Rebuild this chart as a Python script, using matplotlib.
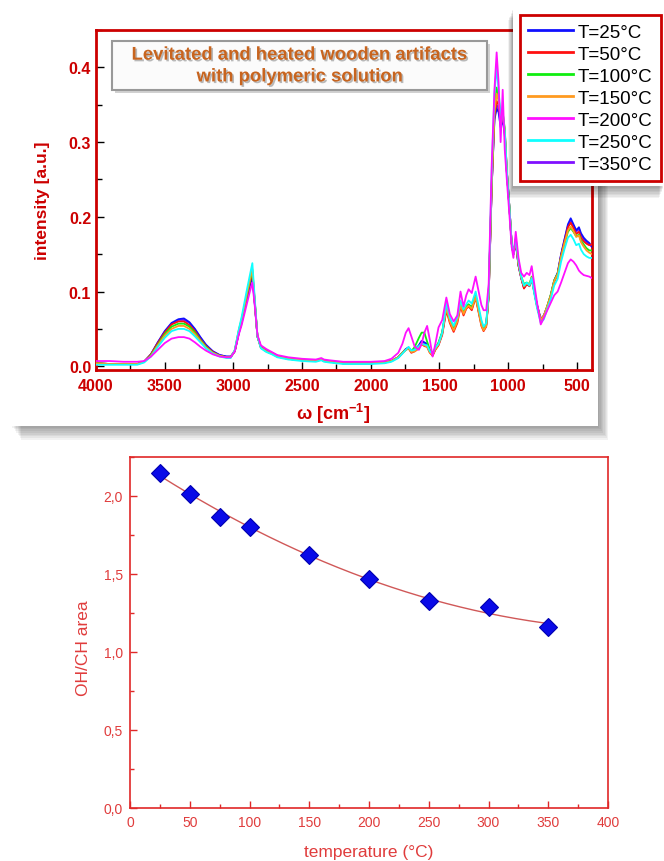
import numpy as np
import matplotlib.pyplot as plt
import matplotlib.patheffects as pe
from matplotlib.patches import Rectangle
from matplotlib.lines import Line2D
from matplotlib.ticker import MultipleLocator, FuncFormatter

plt.rcParams['font.family'] = ['Liberation Sans', 'DejaVu Sans']
plt.rcParams['mathtext.fontset'] = 'custom'
plt.rcParams['mathtext.rm'] = 'Liberation Sans'
plt.rcParams['mathtext.bf'] = 'Liberation Sans:bold'

# ---- spectra (wavenumber grid shared by all curves) ----
wn = [4000, 3900, 3800, 3700, 3650, 3600, 3550, 3500, 3450, 3400, 3360, 3320, 3280, 3240, 3200, 3150, 3100, 3050, 3020,
      2990, 2960, 2940, 2920, 2900, 2880, 2862, 2845, 2825, 2800, 2760, 2720, 2680, 2600, 2500, 2400, 2360, 2340, 2300,
      2200, 2100, 2000, 1900, 1850, 1800, 1770, 1745, 1725, 1705, 1680, 1650, 1630, 1610, 1590, 1570, 1550, 1530, 1507, 1480, 1450, 1425, 1397,
      1370, 1347, 1325, 1305, 1288, 1265, 1237, 1215, 1195, 1179, 1160, 1142, 1120, 1100, 1084, 1070, 1055, 1040, 1025, 1010, 990, 975, 962,
      945, 925, 905, 885, 865, 845, 829, 810, 790, 763, 740, 715, 690, 665, 640, 615, 590, 565, 545, 525, 505, 485, 470, 450, 430, 410, 390]

t25 = [0.004, 0.003, 0.003, 0.003, 0.006, 0.016, 0.032, 0.047, 0.058, 0.063, 0.064, 0.059, 0.050, 0.039, 0.029, 0.020, 0.015, 0.013, 0.013,
       0.020, 0.045, 0.058, 0.075, 0.092, 0.108, 0.120, 0.085, 0.040, 0.026, 0.021, 0.018, 0.014, 0.010, 0.008, 0.007, 0.009, 0.008, 0.006,
       0.004, 0.004, 0.004, 0.005, 0.007, 0.012, 0.018, 0.023, 0.025, 0.020, 0.022, 0.028, 0.034, 0.032, 0.030, 0.020, 0.016, 0.024, 0.030, 0.045, 0.078, 0.062, 0.050,
       0.062, 0.085, 0.072, 0.080, 0.082, 0.078, 0.095, 0.075, 0.058, 0.050, 0.056, 0.095, 0.240, 0.330, 0.345, 0.340, 0.320, 0.330, 0.310, 0.260, 0.210, 0.165, 0.150,
       0.165, 0.135, 0.118, 0.105, 0.110, 0.108, 0.118, 0.100, 0.082, 0.063, 0.068, 0.080, 0.095, 0.115, 0.125, 0.150, 0.170, 0.190, 0.198, 0.190, 0.182, 0.186, 0.178, 0.172, 0.168, 0.165, 0.160]

t50 = [0.004, 0.003, 0.003, 0.003, 0.006, 0.016, 0.031, 0.045, 0.056, 0.060, 0.060, 0.055, 0.047, 0.036, 0.027, 0.019, 0.014, 0.012, 0.012,
       0.020, 0.046, 0.060, 0.077, 0.095, 0.112, 0.125, 0.087, 0.040, 0.025, 0.020, 0.017, 0.013, 0.010, 0.008, 0.007, 0.009, 0.007, 0.006,
       0.004, 0.004, 0.004, 0.005, 0.007, 0.012, 0.018, 0.022, 0.024, 0.018, 0.020, 0.024, 0.030, 0.027, 0.026, 0.018, 0.014, 0.022, 0.028, 0.042, 0.075, 0.058, 0.046,
       0.058, 0.080, 0.068, 0.077, 0.080, 0.075, 0.092, 0.072, 0.054, 0.047, 0.053, 0.093, 0.240, 0.335, 0.355, 0.350, 0.330, 0.335, 0.315, 0.262, 0.210, 0.165, 0.150,
       0.168, 0.135, 0.118, 0.104, 0.110, 0.107, 0.117, 0.099, 0.080, 0.062, 0.067, 0.080, 0.094, 0.113, 0.123, 0.148, 0.167, 0.186, 0.192, 0.185, 0.177, 0.180, 0.172, 0.167, 0.164, 0.162, 0.163]

t100 = [0.004, 0.003, 0.003, 0.003, 0.006, 0.015, 0.029, 0.043, 0.053, 0.057, 0.057, 0.053, 0.045, 0.035, 0.026, 0.018, 0.014, 0.012, 0.012,
        0.021, 0.048, 0.062, 0.079, 0.097, 0.114, 0.128, 0.088, 0.040, 0.025, 0.020, 0.017, 0.013, 0.010, 0.008, 0.007, 0.009, 0.007, 0.006,
        0.004, 0.004, 0.004, 0.005, 0.007, 0.012, 0.018, 0.022, 0.024, 0.020, 0.026, 0.038, 0.045, 0.045, 0.033, 0.022, 0.018, 0.024, 0.032, 0.046, 0.080, 0.062, 0.052,
        0.064, 0.084, 0.073, 0.080, 0.083, 0.079, 0.094, 0.075, 0.057, 0.050, 0.055, 0.095, 0.245, 0.345, 0.373, 0.360, 0.335, 0.340, 0.318, 0.262, 0.210, 0.165, 0.150,
        0.170, 0.138, 0.120, 0.110, 0.112, 0.110, 0.120, 0.100, 0.081, 0.061, 0.067, 0.081, 0.096, 0.115, 0.124, 0.146, 0.164, 0.180, 0.185, 0.180, 0.174, 0.176, 0.168, 0.163, 0.158, 0.155, 0.155]

t150 = [0.004, 0.003, 0.003, 0.003, 0.006, 0.014, 0.028, 0.041, 0.050, 0.054, 0.054, 0.050, 0.043, 0.034, 0.025, 0.018, 0.014, 0.012, 0.012,
        0.021, 0.049, 0.063, 0.080, 0.099, 0.116, 0.130, 0.089, 0.040, 0.025, 0.020, 0.017, 0.013, 0.010, 0.008, 0.007, 0.009, 0.007, 0.006,
        0.004, 0.004, 0.004, 0.005, 0.007, 0.012, 0.018, 0.022, 0.024, 0.019, 0.020, 0.025, 0.031, 0.028, 0.026, 0.018, 0.015, 0.023, 0.029, 0.044, 0.078, 0.060, 0.048,
        0.060, 0.082, 0.070, 0.078, 0.081, 0.077, 0.093, 0.073, 0.055, 0.048, 0.054, 0.094, 0.243, 0.340, 0.365, 0.355, 0.335, 0.338, 0.316, 0.262, 0.210, 0.165, 0.150,
        0.168, 0.137, 0.119, 0.107, 0.111, 0.109, 0.119, 0.100, 0.081, 0.062, 0.068, 0.081, 0.095, 0.114, 0.123, 0.146, 0.165, 0.182, 0.187, 0.181, 0.173, 0.175, 0.166, 0.160, 0.155, 0.152, 0.150]

t200 = [0.007, 0.007, 0.006, 0.006, 0.007, 0.013, 0.022, 0.031, 0.037, 0.039, 0.039, 0.037, 0.032, 0.026, 0.021, 0.016, 0.013, 0.012, 0.012,
        0.020, 0.043, 0.055, 0.070, 0.085, 0.100, 0.112, 0.082, 0.042, 0.028, 0.023, 0.019, 0.015, 0.012, 0.010, 0.009, 0.011, 0.009, 0.008,
        0.006, 0.006, 0.006, 0.007, 0.010, 0.018, 0.030, 0.045, 0.051, 0.040, 0.026, 0.022, 0.030, 0.045, 0.054, 0.035, 0.013, 0.030, 0.052, 0.062, 0.092, 0.070, 0.060,
        0.068, 0.100, 0.080, 0.095, 0.103, 0.098, 0.120, 0.100, 0.082, 0.075, 0.075, 0.110, 0.270, 0.370, 0.420, 0.380, 0.300, 0.370, 0.290, 0.250, 0.200, 0.160, 0.145,
        0.180, 0.145, 0.125, 0.120, 0.125, 0.122, 0.134, 0.110, 0.085, 0.056, 0.065, 0.075, 0.085, 0.095, 0.100, 0.112, 0.125, 0.138, 0.143, 0.140, 0.135, 0.128, 0.125, 0.122, 0.121, 0.120, 0.118]

t250 = [0.002, 0.002, 0.002, 0.002, 0.005, 0.013, 0.026, 0.038, 0.047, 0.050, 0.050, 0.047, 0.040, 0.032, 0.024, 0.017, 0.013, 0.011, 0.011,
        0.022, 0.050, 0.066, 0.085, 0.104, 0.122, 0.138, 0.092, 0.040, 0.024, 0.019, 0.016, 0.012, 0.009, 0.007, 0.006, 0.008, 0.006, 0.005,
        0.003, 0.003, 0.003, 0.004, 0.006, 0.011, 0.017, 0.022, 0.026, 0.021, 0.022, 0.027, 0.030, 0.029, 0.028, 0.020, 0.017, 0.025, 0.030, 0.045, 0.085, 0.065, 0.054,
        0.066, 0.088, 0.076, 0.083, 0.088, 0.084, 0.100, 0.080, 0.062, 0.053, 0.058, 0.100, 0.260, 0.365, 0.400, 0.370, 0.335, 0.340, 0.315, 0.262, 0.210, 0.165, 0.150,
        0.172, 0.140, 0.120, 0.108, 0.112, 0.108, 0.118, 0.097, 0.078, 0.058, 0.063, 0.077, 0.090, 0.108, 0.117, 0.140, 0.157, 0.172, 0.176, 0.170, 0.162, 0.164, 0.156, 0.150, 0.147, 0.145, 0.145]

t350 = [0.004, 0.003, 0.003, 0.003, 0.006, 0.016, 0.032, 0.046, 0.057, 0.062, 0.062, 0.058, 0.049, 0.038, 0.028, 0.020, 0.015, 0.013, 0.013,
        0.020, 0.045, 0.059, 0.076, 0.093, 0.110, 0.122, 0.086, 0.040, 0.026, 0.021, 0.018, 0.014, 0.010, 0.008, 0.007, 0.009, 0.008, 0.006,
        0.004, 0.004, 0.004, 0.005, 0.007, 0.012, 0.018, 0.023, 0.025, 0.020, 0.022, 0.027, 0.033, 0.031, 0.029, 0.019, 0.015, 0.023, 0.029, 0.044, 0.077, 0.061, 0.049,
        0.061, 0.084, 0.071, 0.079, 0.081, 0.077, 0.094, 0.074, 0.057, 0.049, 0.055, 0.094, 0.240, 0.332, 0.350, 0.345, 0.325, 0.333, 0.312, 0.260, 0.210, 0.165, 0.150,
        0.166, 0.135, 0.118, 0.105, 0.110, 0.108, 0.118, 0.100, 0.082, 0.063, 0.068, 0.080, 0.095, 0.114, 0.124, 0.149, 0.169, 0.188, 0.195, 0.188, 0.180, 0.184, 0.176, 0.170, 0.166, 0.163, 0.160]

spectra = [t25, t50, t100, t150, t200, t250, t350]
labels = ['T=25°C', 'T=50°C', 'T=100°C', 'T=150°C', 'T=200°C', 'T=250°C', 'T=350°C']
colors = ['#1010ff', '#ff1010', '#10ee10', '#ff9a20', '#ff10ff', '#10ffff', '#8010ff']
zorders = [3, 3, 3, 3, 6, 5, 2]

# ---- OH/CH area vs temperature ----
temp = [25, 50, 75, 100, 150, 200, 250, 300, 350]
ohch = [2.15, 2.016, 1.867, 1.803, 1.622, 1.468, 1.329, 1.29, 1.158]

W, H = 664, 862
fig = plt.figure(figsize=(W / 100, H / 100), dpi=100)


def fig_rect(x0, y0, x1, y1):
    # pixel box (top-left origin) -> figure fraction
    return (x0 / W, 1 - y1 / H), (x1 - x0) / W, (y1 - y0) / H


def shadow_card(x0, y0, x1, y1, z, dx=1, dy=1, n=8):
    for k in range(n, 0, -1):
        xy, w, h = fig_rect(x0 + dx * k, y0 + dy * k, x1 + dx * k, y1 + dy * k)
        fig.add_artist(Rectangle(xy, w, h, transform=fig.transFigure, fc='black',
                                 ec='none', alpha=0.05, zorder=z))
    xy, w, h = fig_rect(x0, y0, x1, y1)
    fig.add_artist(Rectangle(xy, w, h, transform=fig.transFigure, fc='white',
                             ec='none', zorder=z))


# white card behind the spectrum plot
shadow_card(11, 25, 598, 427, -1, dx=1.3, dy=1.7)

dark_red = '#cc0000'
ax1 = fig.add_axes([96 / W, 1 - 371 / H, 496 / W, 340 / H])
ax1.set_facecolor('white')
for s, c, lab, z in zip(spectra, colors, labels, zorders):
    ax1.plot(wn, s, color=c, lw=1.3, label=lab, zorder=z)

ax1.set_xlim(4000, 390)
ax1.set_ylim(-0.005, 0.45)
xt = [4000, 3500, 3000, 2500, 2000, 1500, 1000, 500]
ax1.set_xticks(xt, labels=[str(v) for v in xt], fontweight='bold')
yt = [0.0, 0.1, 0.2, 0.3, 0.4]
ax1.set_yticks(yt, labels=[f'{v:.1f}' for v in yt], fontweight='bold')
ax1.xaxis.set_minor_locator(MultipleLocator(250))
ax1.yaxis.set_minor_locator(MultipleLocator(0.05))
ax1.tick_params(which='both', direction='in', color='black', width=1,
                labelcolor=dark_red, labelsize=11.5)
ax1.tick_params(which='major', length=6)
ax1.tick_params(which='minor', length=4)
ax1.tick_params(axis='x', pad=6)
ax1.tick_params(axis='y', pad=3.5)
for sp in ax1.spines.values():
    sp.set_color(dark_red)
    sp.set_linewidth(2)
ax1.set_ylabel('intensity [a.u.]', fontsize=12.5, fontweight='bold', color=dark_red)
ax1.yaxis.set_label_coords(-0.093, 0.5)
ax1.set_xlabel(r'ω [cm$^{\mathbf{-1}}$]', fontsize=13, fontweight='bold', color=dark_red)
ax1.xaxis.set_label_coords(0.478, -0.092)

# title box inside the plot
box = Rectangle((0.032, 0.824), 0.756, 0.144, transform=ax1.transAxes, fc='#fbfbfb',
                ec='#999999', lw=1.5, zorder=8,
                path_effects=[pe.withSimplePatchShadow(offset=(2, -2), alpha=0.25)])
ax1.add_patch(box)
shadow = [pe.withSimplePatchShadow(offset=(1.2, -1.2), shadow_rgbFace='#777777', alpha=0.5)]
ax1.text(0.41, 0.926, 'Levitated and heated wooden artifacts', transform=ax1.transAxes,
         ha='center', va='center', fontsize=13.3, fontweight='bold', color='#c8641e',
         zorder=9, path_effects=shadow)
ax1.text(0.41, 0.862, 'with polymeric solution', transform=ax1.transAxes,
         ha='center', va='center', fontsize=13.3, fontweight='bold', color='#c8641e',
         zorder=9, path_effects=shadow)

# legend on its own white card at the top right
shadow_card(513, 9, 664, 187, 3, dx=-0.6, dy=1.5)
handles = [Line2D([], [], color=c, lw=2) for c in colors]
leg = fig.legend(handles, labels, loc='upper left', bbox_to_anchor=(520 / W, 1 - 16 / H),
                 bbox_transform=fig.transFigure, fontsize=13.5, frameon=True, fancybox=False,
                 framealpha=1, edgecolor=dark_red, borderpad=0.45, handlelength=2.35,
                 handletextpad=0.3, labelspacing=0.26, borderaxespad=0)
leg.get_frame().set_linewidth(2)
leg.set_zorder(5)

# ---- lower plot ----
red = '#e02828'
lab_red = '#e03c3c'
ax2 = fig.add_axes([130 / W, 1 - 809 / H, 478 / W, 351 / H])
coef = np.polyfit(temp, ohch, 2)
fit = np.poly1d(coef)
t_fit = np.linspace(min(temp), max(temp), 200)
ax2.plot(t_fit, fit(t_fit), color='#d05858', lw=1)
ax2.plot(temp, ohch, 'D', color='#0a0ae8', mec='#0000b0', mew=0.8, ms=9, zorder=3)

ax2.set_xlim(0, 400)
ax2.set_ylim(0, 2.25)
ax2.xaxis.set_major_locator(MultipleLocator(50))
ax2.xaxis.set_minor_locator(MultipleLocator(25))
ax2.yaxis.set_major_locator(MultipleLocator(0.5))
ax2.yaxis.set_minor_locator(MultipleLocator(0.25))
ax2.yaxis.set_major_formatter(FuncFormatter(lambda v, p: f'{v:.1f}'.replace('.', ',')))
ax2.tick_params(which='both', direction='in', color=red, width=1, labelcolor=lab_red,
                labelsize=10)
ax2.tick_params(which='major', length=5)
ax2.tick_params(which='minor', length=3)
ax2.tick_params(axis='x', pad=5)
ax2.tick_params(axis='y', pad=5)
for sp in ax2.spines.values():
    sp.set_color(red)
    sp.set_linewidth(1.2)
ax2.set_ylabel('OH/CH area', fontsize=12.5, color=lab_red)
ax2.yaxis.set_label_coords(-0.082, 0.459)
ax2.set_xlabel('temperature (°C)', fontsize=12.5, color=lab_red)
ax2.xaxis.set_label_coords(0.5, -0.103)

fig.savefig('out.png', dpi=100)
